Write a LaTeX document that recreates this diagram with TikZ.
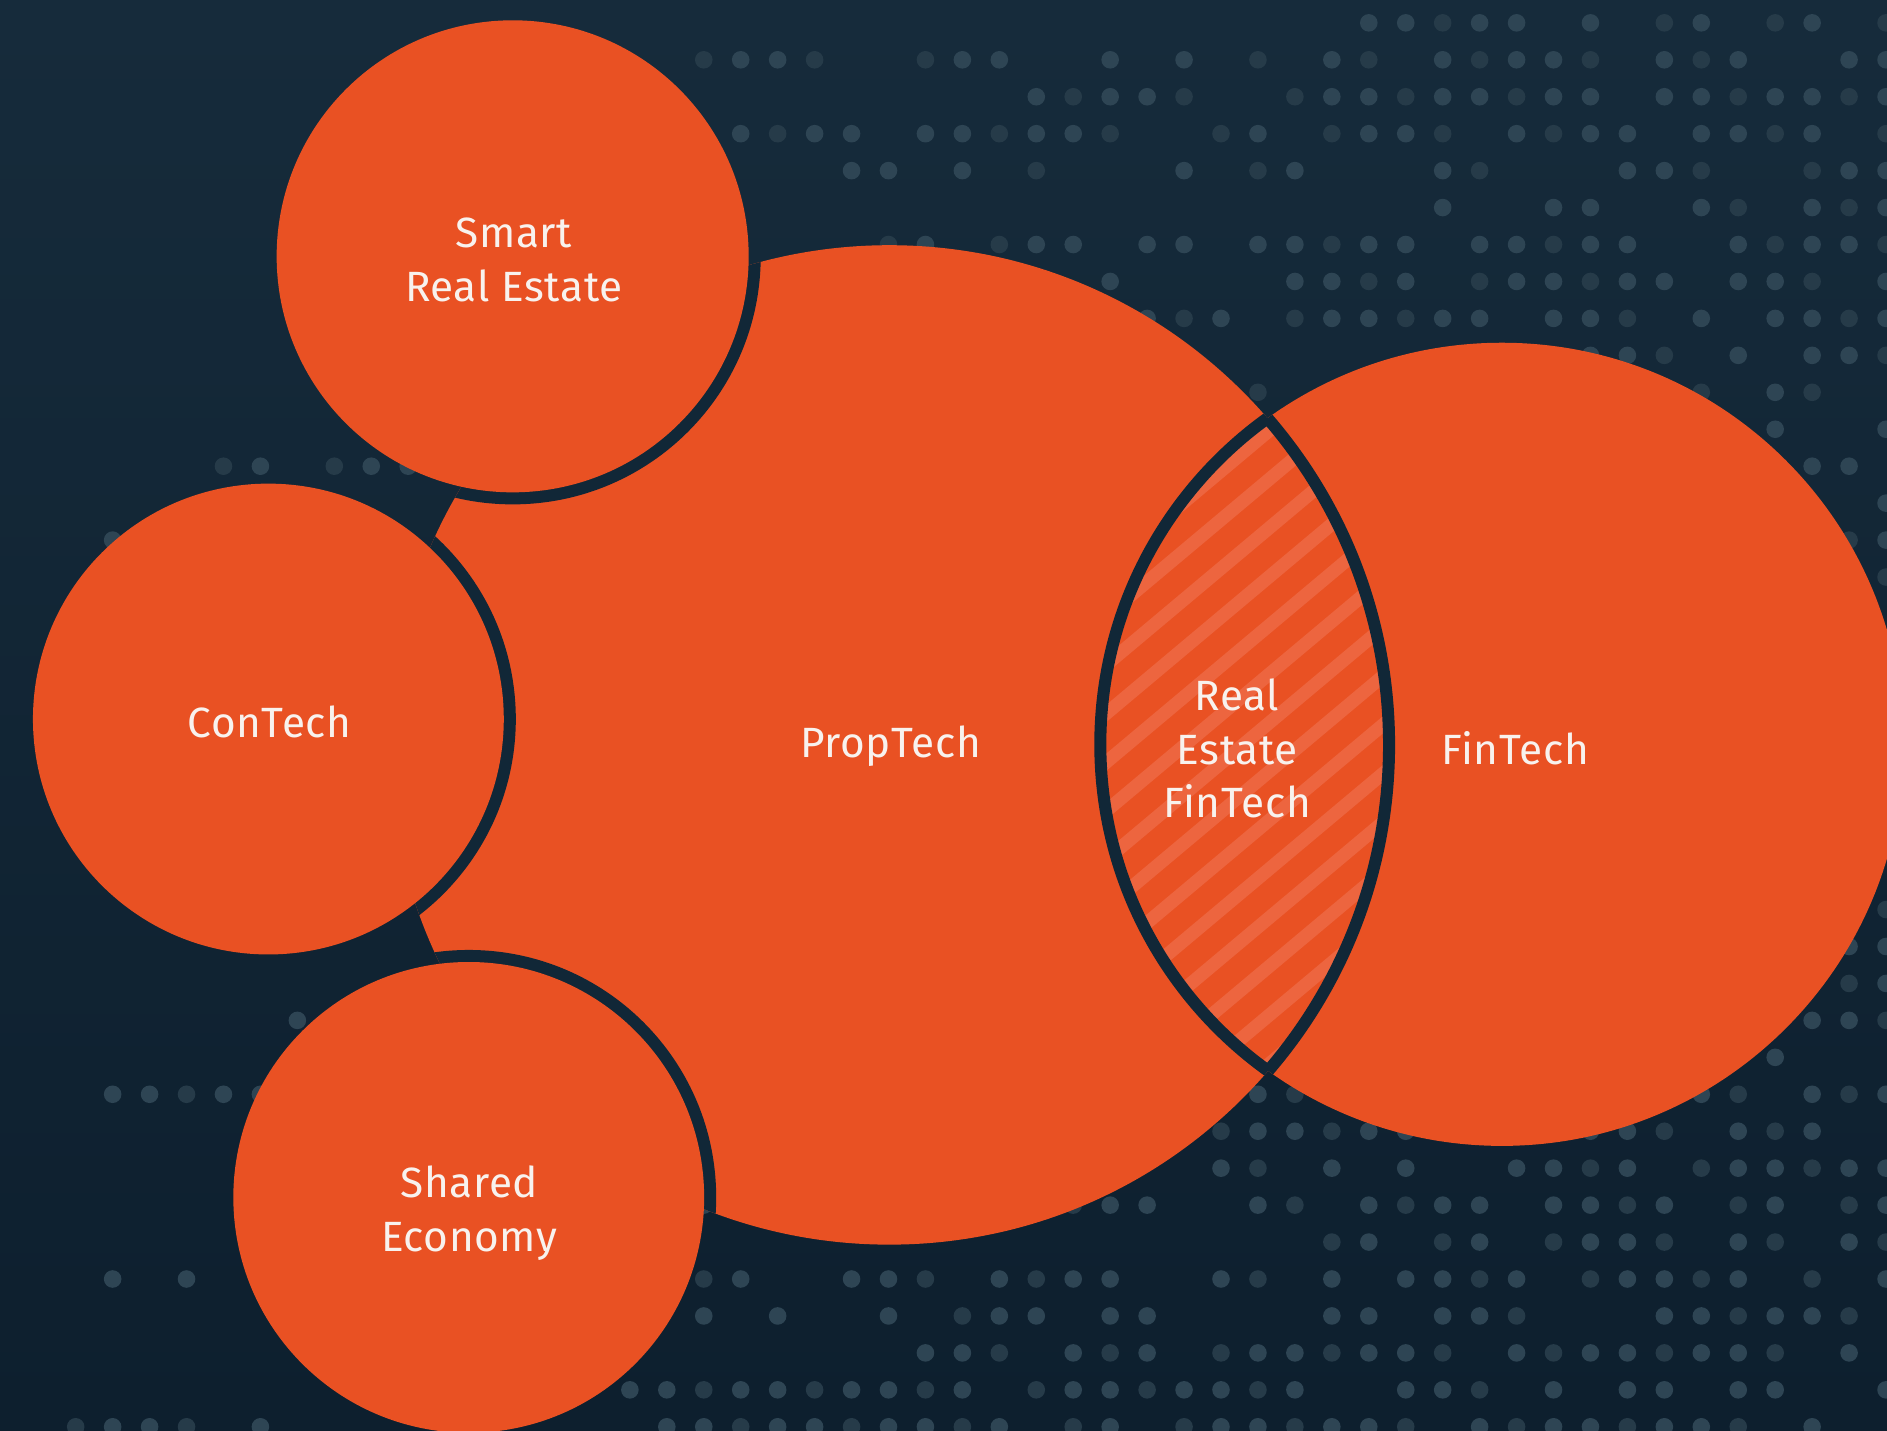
\documentclass[tikz,border=0pt]{standalone}
\usepackage{fontspec}
\newfontfamily\lblfont[LetterSpace=1.5]{Fira Sans}
\definecolor{bgtop}{RGB}{22,43,59}
\definecolor{bgbot}{RGB}{13,31,46}
\definecolor{orng}{RGB}{233,81,35}
\definecolor{stripe}{RGB}{237,101,63}
\definecolor{ringc}{RGB}{17,39,55}
\definecolor{dotA}{RGB}{46,69,84}
\definecolor{dotB}{RGB}{38,59,73}
\definecolor{txt}{RGB}{248,242,238}
\tikzset{
  lbl/.style={align=center, text=txt, font=\lblfont\fontsize{10pt}{12.6pt}\selectfont, inner sep=0pt},
  dotA/.style={fill=dotA},
  dotB/.style={fill=dotB},
}
\begin{document}
\begin{tikzpicture}[x=0.01cm,y=-0.01cm]
\useasboundingbox (0,0) rectangle (1568,1189);
% background
\shade[top color=bgtop, bottom color=bgbot] (0,0) rectangle (1568,1189);
% dot grid
\foreach \j/\ks in {
0/{37,38,39,40,41,43,45,46,48,49,51},
1/{19,20,21,22,25,26,27,30,32,34,36,37,39,40,41,42,43,45,46,47,50,51},
2/{28,29,30,31,32,35,36,37,38,39,40,41,42,43,45,46,47,48,49,50,51},
3/{20,21,22,23,25,26,27,28,29,30,33,34,36,37,38,39,41,42,43,44,46,47,48,49,51},
4/{23,24,26,28,32,34,35,39,40,44,45,46,49,50,51},
5/{39,42,43,46,47,49,50,51},
6/{24,25,27,28,29,31,32,34,35,36,37,38,40,41,42,43,44,47,48,49,50,51},
7/{30,35,36,37,38,40,41,42,43,44,45,47,48,49,51},
8/{20,31,32,33,35,36,37,38,39,40,42,43,44,46,48,49,50,51},
9/{43,44,45,47,49,50,51},
10/{34,46,48,49},
11/{48,51},
12/{6,7,9,10,11,49,50},
13/{51},
14/{3,50,51},
15/{51},
24/{51},
25/{50,51},
26/{50,51},
27/{8,49,50,51},
28/{48},
29/{3,4,5,6,7,34,35,46,47,49,50,51},
30/{33,34,35,36,37,38,43,44,45,47,48,49},
31/{33,34,36,38,41,42,43,44,46,47,48,49,50,51},
32/{19,29,30,31,34,35,37,38,39,40,42,43,44,45,47,48,50,51},
33/{36,37,39,40,42,43,44,45,47,48,50,51},
34/{3,5,19,20,23,24,25,27,28,29,30,33,34,36,38,39,40,41,43,44,45,46,47,49,51},
35/{19,21,24,26,27,28,30,31,36,37,39,40,41,45,46,47,48,49,50},
36/{25,26,27,29,30,31,33,34,35,36,37,38,39,41,42,43,44,45,46,47,48,50},
37/{17,18,19,20,21,22,23,24,25,26,28,29,30,31,32,33,34,35,38,39,40,42,44,45,47,48,51},
38/{2,3,4,5,7,18,19,20,21,22,23,24,25,26,27,29,30,32,33,34,35,36,37,38,40,41,42,43,44,45,46,47,49}}
{
  \foreach \k in \ks {
    \pgfmathtruncatemacro{\sh}{mod(\k*7+\j*5,3)}
    \ifnum\sh=0
      \fill[dotB] ({1.5+30.7*\k},{19+30.7*\j}) circle (0.073cm);
    \else
      \fill[dotA] ({1.5+30.7*\k},{19+30.7*\j}) circle (0.073cm);
    \fi
  }
}
% main circles
\coordinate (propc) at (739,619);
\coordinate (finc) at (1248,618.5);
\fill[orng] (propc) circle (4.15cm);
\fill[orng] (finc) circle (3.335cm);
% hatched lens
\begin{scope}
  \clip (propc) circle (4.15cm);
  \clip (finc) circle (3.335cm);
  \foreach \i in {-14,...,14} {
    \pgfmathsetmacro{\px}{1034+\i*31*0.643}
    \pgfmathsetmacro{\py}{618+\i*31*0.766}
    \draw[stripe, line width=0.11cm] ({\px-420*0.766},{\py+420*0.643}) -- ({\px+420*0.766},{\py-420*0.643});
  }
\end{scope}
% lens outline
\begin{scope}
  \clip (propc) circle (4.15cm);
  \draw[ringc, line width=0.1cm] (finc) circle (3.335cm);
\end{scope}
\begin{scope}
  \clip (finc) circle (3.335cm);
  \draw[ringc, line width=0.1cm] (propc) circle (4.15cm);
\end{scope}
% small circles with rings over PropTech
\coordinate (smartc) at (426,213);
\coordinate (conc) at (223,597.5);
\coordinate (sharedc) at (389.5,995);
\begin{scope}
  \clip (propc) circle (4.15cm);
  \fill[ringc] (smartc) circle (2.06cm);
  \fill[ringc] (conc) circle (2.055cm);
  \fill[ringc] (sharedc) circle (2.055cm);
\end{scope}
\fill[orng] (smartc) circle (1.96cm);
\fill[orng] (conc) circle (1.955cm);
\fill[orng] (sharedc) circle (1.955cm);
% labels
\node[lbl] (smart) at (427,216) {Smart\\Real Estate};
\node[lbl] (contech) at (224,600) {ConTech};
\node[lbl] (proptech) at (740,620) {PropTech};
\node[lbl] (refin) at (1028,622) {Real\\Estate\\FinTech};
\node[lbl] (fintech) at (1259,622) {FinTech};
\node[lbl] (shared) at (390,1008) {Shared\\Economy};
\end{tikzpicture}
\end{document}
